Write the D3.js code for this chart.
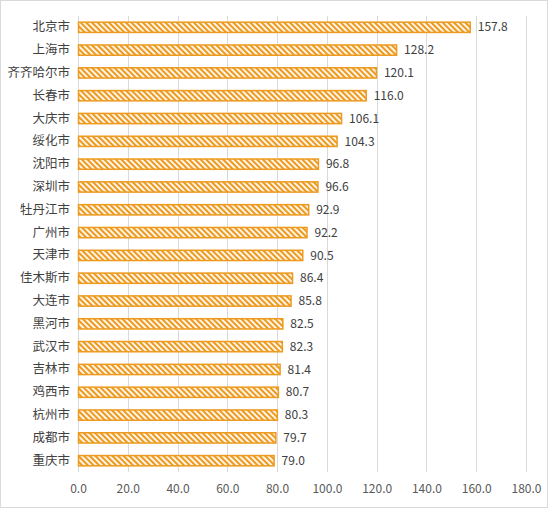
<!DOCTYPE html>
<html>
<head>
<meta charset="utf-8">
<script src="https://cdn.jsdelivr.net/npm/d3@7"></script>
<style>
  body { margin: 0; background: #fff; }
  text { font-family: "Microsoft YaHei", "Noto Sans CJK SC", sans-serif; }
</style>
</head>
<body>
<script>
// cities, top to bottom
var cities = ["北京市", "上海市", "齐齐哈尔市", "长春市", "大庆市", "绥化市", "沈阳市", "深圳市",
  "牡丹江市", "广州市", "天津市", "佳木斯市", "大连市", "黑河市", "武汉市", "吉林市",
  "鸡西市", "杭州市", "成都市", "重庆市"];
var values = [157.8, 128.2, 120.1, 116.0, 106.1, 104.3, 96.8, 96.6, 92.9, 92.2,
  90.5, 86.4, 85.8, 82.5, 82.3, 81.4, 80.7, 80.3, 79.7, 79.0];
var ticks = [0, 20, 40, 60, 80, 100, 120, 140, 160, 180];

var data = cities.map(function(c, i) { return {city: c, value: values[i]}; });

var W = 548, H = 508;
var margin = {top: 16, right: 22, bottom: 36, left: 78};

var svg = d3.select("body").append("svg")
  .attr("width", W)
  .attr("height", H);

// outer frame
svg.append("rect")
  .attr("x", 0.5).attr("y", 0.5)
  .attr("width", W - 1).attr("height", H - 1)
  .attr("fill", "#fff")
  .attr("stroke", "#d9d9d9");

var orange = "#ED9A1E";

// diagonal hatch
var pat = svg.append("defs").append("pattern")
  .attr("id", "hatch")
  .attr("patternUnits", "userSpaceOnUse")
  .attr("width", 4).attr("height", 4)
  .attr("patternTransform", "rotate(-45)");
pat.append("rect").attr("width", 4).attr("height", 4).attr("fill", "#fff");
pat.append("rect").attr("width", 2.2).attr("height", 4).attr("fill", orange);

var x = d3.scaleLinear()
  .domain([0, 180])
  .range([margin.left, W - margin.right]);

var y = d3.scaleBand()
  .domain(cities)
  .range([margin.top, H - margin.bottom])
  .paddingInner(0.55)
  .paddingOuter(0.27);

// gridlines
svg.append("g")
  .selectAll("line")
  .data(ticks)
  .enter()
  .append("line")
    .attr("x1", function(d) { return Math.round(x(d)) + 0.5; })
    .attr("x2", function(d) { return Math.round(x(d)) + 0.5; })
    .attr("y1", margin.top)
    .attr("y2", H - margin.bottom)
    .attr("stroke", "#d9d9d9")
    .attr("stroke-width", 1);

// bars
svg.append("g")
  .selectAll("rect")
  .data(data)
  .enter()
  .append("rect")
    .attr("x", x(0) + 0.5)
    .attr("y", function(d) { return y(d.city); })
    .attr("width", function(d) { return x(d.value) - x(0) - 1; })
    .attr("height", y.bandwidth())
    .attr("fill", "url(#hatch)")
    .attr("stroke", orange)
    .attr("stroke-width", 1.5);

// value labels
svg.append("g")
  .selectAll("text")
  .data(data)
  .enter()
  .append("text")
    .attr("x", function(d) { return x(d.value) + 7; })
    .attr("y", function(d) { return y(d.city) + y.bandwidth() / 2; })
    .attr("dy", "0.35em")
    .attr("font-size", 12)
    .attr("fill", "#404040")
    .text(function(d) { return d.value.toFixed(1); });

// category axis
var yAxis = svg.append("g")
  .attr("transform", "translate(" + (margin.left - 8) + ",0)")
  .call(d3.axisLeft(y).tickSize(0).tickPadding(0));
yAxis.select(".domain").remove();
yAxis.selectAll("text")
  .attr("font-size", 12.5)
  .attr("fill", "#404040");

// value axis
var xAxis = svg.append("g")
  .attr("transform", "translate(0," + (H - margin.bottom) + ")")
  .call(d3.axisBottom(x).tickValues(ticks).tickSize(0).tickPadding(12)
    .tickFormat(function(d) { return d.toFixed(1); }));
xAxis.select(".domain").remove();
xAxis.selectAll("text")
  .attr("font-size", 12)
  .attr("fill", "#595959");
</script>
</body>
</html>
